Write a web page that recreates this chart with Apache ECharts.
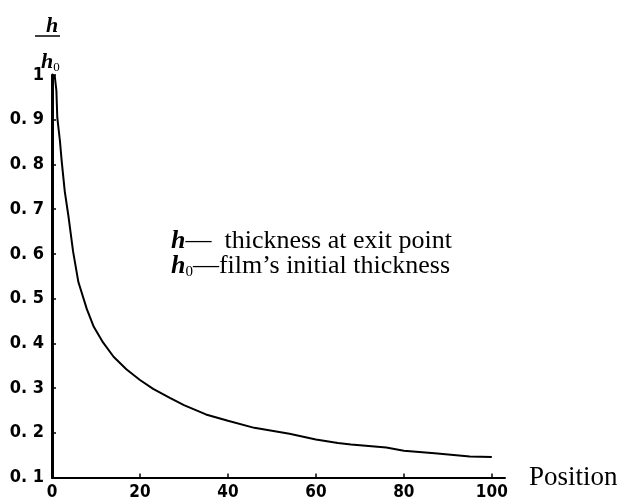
<!DOCTYPE html>
<html>
<head>
<meta charset="utf-8">
<script src="https://cdn.jsdelivr.net/npm/echarts@6/dist/echarts.min.js"></script>
<style>
    html, body { margin: 0; padding: 0; background: #fff; }
    #chart { width: 625px; height: 504px; }
</style>
</head>
<body>
<div id="chart"></div>
<script>
    // position along the film vs. relative thickness h/h0
    const positions = [0.6, 1, 1.2, 1.8, 2.2, 2.9, 3.7, 4.8, 6, 7.9, 9.5, 11.6, 14, 16.9, 20, 23, 26.8, 30, 35, 40, 46, 54, 60, 65, 68, 76, 80, 87, 95, 100];
    const ratios = [1.0, 0.965, 0.905, 0.853, 0.808, 0.74, 0.687, 0.605, 0.537, 0.477, 0.437, 0.402, 0.37, 0.342, 0.318, 0.298, 0.278, 0.262, 0.241, 0.227, 0.211, 0.198, 0.185, 0.177, 0.174, 0.167, 0.160, 0.154, 0.147, 0.146];
    const yTicks = [0.1, 0.2, 0.3, 0.4, 0.5, 0.6, 0.7, 0.8, 0.9, 1];

    const serif = '"Liberation Serif", "DejaVu Serif", serif';
    const tickFont = '"DejaVu Sans Condensed", "DejaVu Sans", sans-serif';
    const chart = echarts.init(document.getElementById('chart'));
    chart.setOption({
        animation: false,
        grid: { left: 52, right: 120, top: 75, bottom: 26.5 },
        xAxis: {
            type: 'value',
            min: 0,
            max: 103,
            interval: 20,
            name: 'Position',
            nameLocation: 'end',
            nameGap: 24,
            nameTextStyle: { fontFamily: serif, fontSize: 27, color: '#000', verticalAlign: 'middle' },
            axisLine: { lineStyle: { color: '#000', width: 2 } },
            axisTick: { inside: true, length: 4, lineStyle: { color: '#000', width: 1.5 } },
            axisLabel: {
                margin: 7,
                color: '#000',
                fontFamily: tickFont,
                fontWeight: 'bold',
                fontSize: 17,
                showMaxLabel: false,
                formatter: v => (v > 100 ? '' : String(v))
            },
            splitLine: { show: false }
        },
        yAxis: {
            type: 'value',
            min: 0.1,
            max: 1,
            interval: 0.1,
            axisLine: { lineStyle: { color: '#000', width: 3 } },
            axisTick: { inside: true, length: 4, lineStyle: { color: '#000', width: 1.5 } },
            axisLabel: {
                margin: 8,
                color: '#000',
                fontFamily: tickFont,
                fontWeight: 'bold',
                fontSize: 18,
                formatter: v => {
                    const t = yTicks.find(k => Math.abs(k - v) < 1e-6);
                    if (t === undefined) return '';
                    return t === 1 ? '1' : t.toFixed(1).replace('.', '. ');
                }
            },
            splitLine: { show: false }
        },
        series: [{
            type: 'line',
            data: positions.map((p, i) => [p, ratios[i]]),
            showSymbol: false,
            lineStyle: { color: '#000', width: 2 }
        }],
        graphic: [
            // y axis title h / h0
            { type: 'text', left: 46, top: 15, style: { text: 'h', font: 'bold italic 22px ' + serif, fill: '#000' } },
            { type: 'line', shape: { x1: 35, y1: 36, x2: 60, y2: 36 }, style: { stroke: '#000', lineWidth: 1.5 } },
            {
                type: 'text', left: 41, top: 51,
                style: {
                    text: '{h|h}{s|0}',
                    rich: {
                        h: { font: 'bold italic 22px ' + serif, fill: '#000' },
                        s: { font: '13px ' + serif, fill: '#000', padding: [12, 0, 0, 0] }
                    }
                }
            },
            // legend note
            {
                type: 'text', left: 171, top: 228,
                style: {
                    text: '{h|h}{t|—  thickness at exit point}',
                    rich: {
                        h: { font: 'bold italic 26px ' + serif, fill: '#000' },
                        t: { font: '26px ' + serif, fill: '#000' }
                    }
                }
            },
            {
                type: 'text', left: 171, top: 253,
                style: {
                    text: '{h|h}{s|0}{t|—film’s initial thickness}',
                    rich: {
                        h: { font: 'bold italic 26px ' + serif, fill: '#000' },
                        s: { font: '15px ' + serif, fill: '#000', padding: [12, 0, 0, 0] },
                        t: { font: '26px ' + serif, fill: '#000' }
                    }
                }
            }
        ]
    });
</script>
</body>
</html>
